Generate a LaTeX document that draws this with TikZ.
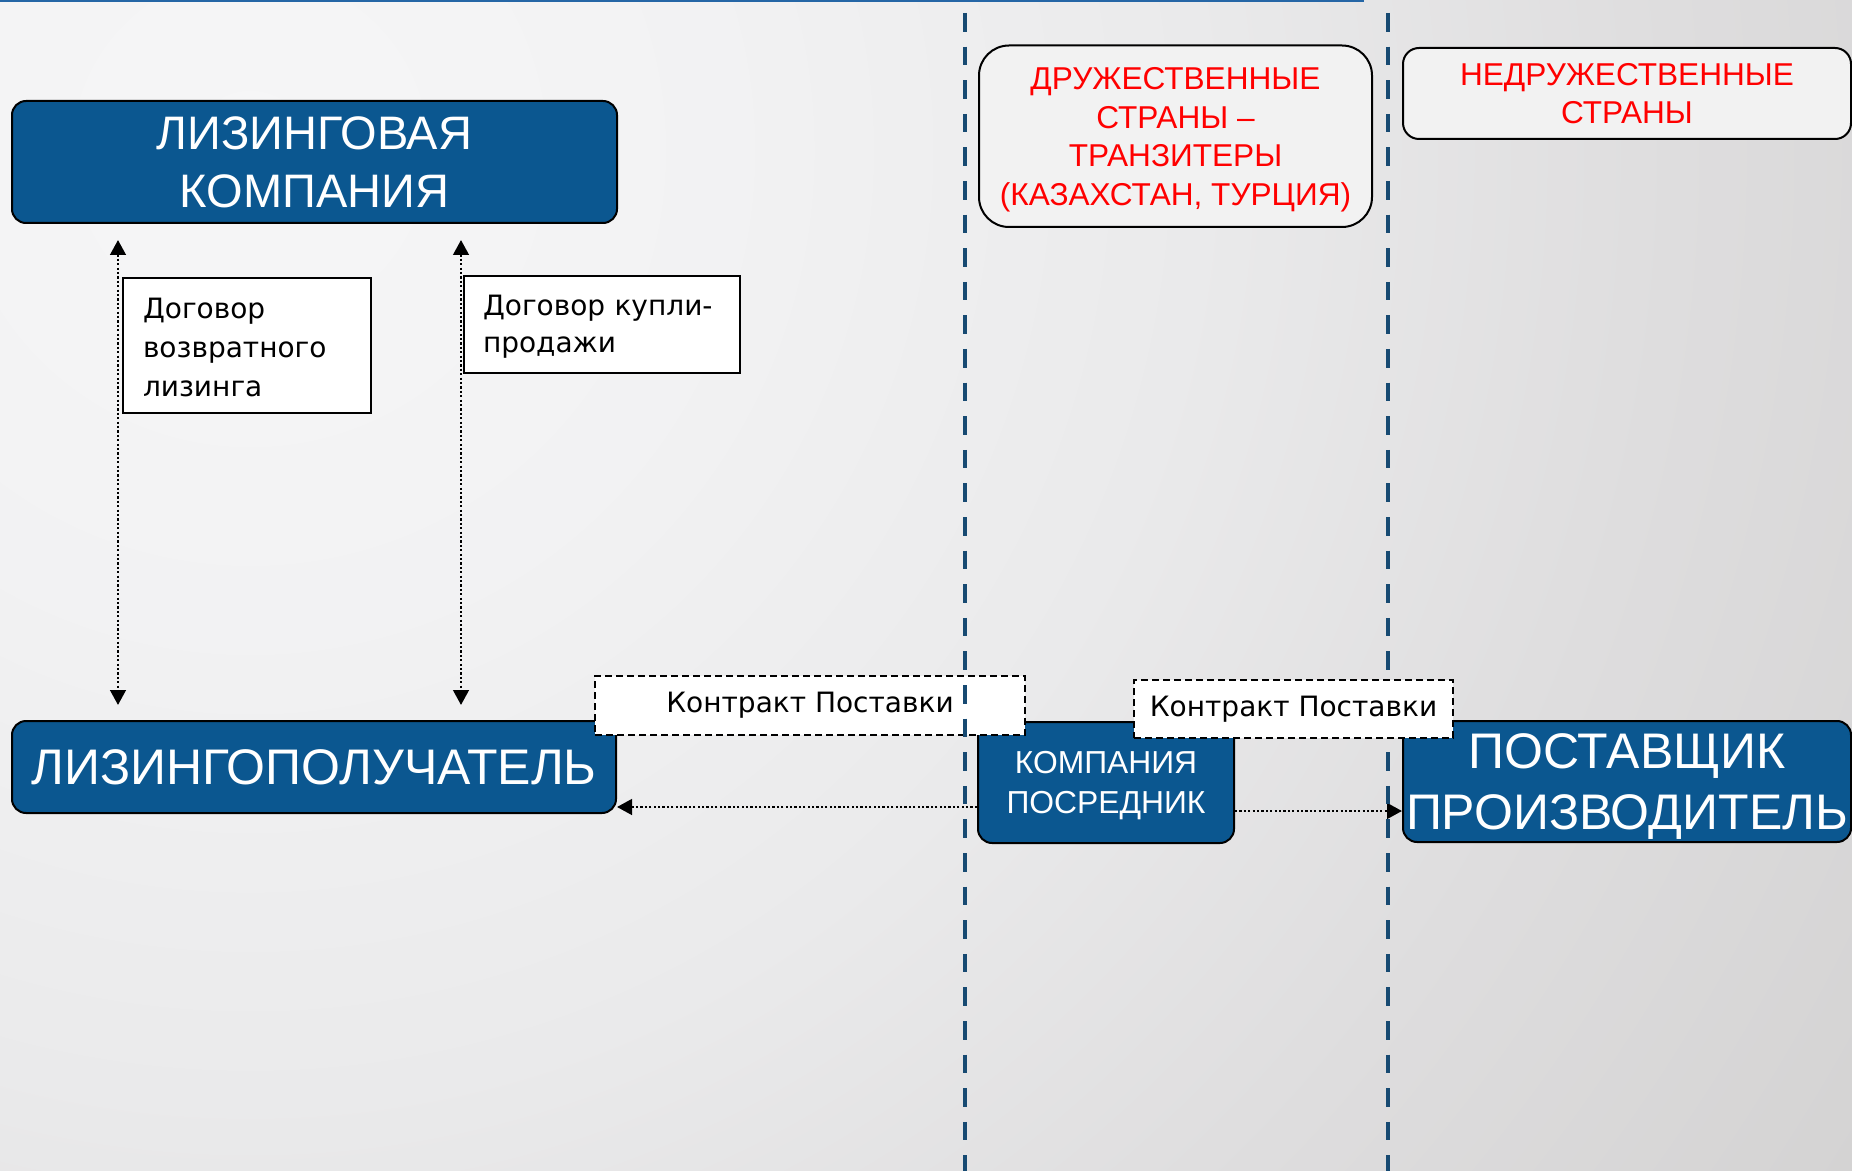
\documentclass[tikz,border=0pt]{standalone}
\usepackage{fontspec}
\setmainfont{Liberation Sans}
\newfontfamily\dvfont{DejaVu Sans}
\usetikzlibrary{arrows.meta,calc,shadings}
\definecolor{boxblue}{HTML}{0B5790}
\definecolor{navyline}{HTML}{174A72}
\definecolor{toplinecol}{HTML}{2566A6}
\definecolor{redtxt}{HTML}{FF0000}
\definecolor{greybox}{HTML}{F2F2F2}
\definecolor{bgA}{HTML}{F6F6F7}
\definecolor{bgB}{HTML}{F2F2F3}
\definecolor{bgC}{HTML}{EAEAEB}
\definecolor{bgD}{HTML}{DEDDDE}
\definecolor{bgE}{HTML}{D4D3D3}
\pgfdeclareradialshading{bgradial}{\pgfpoint{0bp}{0bp}}{%
  color(0bp)=(bgA); color(6.25bp)=(bgB); color(12.5bp)=(bgC);
  color(18.75bp)=(bgD); color(25bp)=(bgE); color(50bp)=(bgE)}
\tikzset{
  bluebox/.style={draw=black, line width=1pt, fill=boxblue, rounded corners=7pt,
    text=white, align=center, inner sep=0pt},
  countrybox/.style={draw=black, line width=1pt, fill=greybox,
    text=redtxt, align=center, inner sep=0pt},
  dealbox/.style={draw=black, line width=1pt, fill=white, align=left,
    inner ysep=0pt, font=\dvfont\fontsize{14}{19.5}\selectfont},
  contractbox/.style={draw=black, line width=1pt, fill=white, inner sep=0pt,
    dash pattern=on 3.5pt off 2pt, font=\dvfont\fontsize{14}{19}\selectfont},
  dotline/.style={line width=1.3pt, dash pattern=on 1.1pt off 1.1pt},
  tip/.tip={Triangle[length=7.5pt,width=7.8pt]},
  borderline/.style={navyline, line width=2pt, dash pattern=on 9.3pt off 7.5pt}
}
\begin{document}
\begin{tikzpicture}[x=0.5pt,y=-0.5pt]
\useasboundingbox (0,0) rectangle (1852,1171);
\clip (0,0) rectangle (1852,1171);
\coordinate (bgc) at (250,150);
\shade[shading=bgradial] (bgc) circle[radius=950pt];

% top rule
\coordinate (tl1) at (0,1);
\coordinate (tl2) at (1364,1);
\draw[toplinecol, line width=1.5pt] (tl1) -- (tl2);

% main boxes
\node[bluebox, minimum width=302.5pt, minimum height=61pt,
  font=\fontsize{23.5}{29}\selectfont] (lk) at (314.5,162) {ЛИЗИНГОВАЯ\\КОМПАНИЯ};
\node[bluebox, minimum width=302pt, minimum height=46pt,
  font=\fontsize{25}{30}\selectfont] (lp) at (314,767) {ЛИЗИНГОПОЛУЧАТЕЛЬ};
\node[bluebox, minimum width=128pt, minimum height=60.5pt, text depth=0pt,
  font=\fontsize{15.9}{19.75}\selectfont] (kp) at (1106,782.5) {КОМПАНИЯ\\ПОСРЕДНИК};
\node[bluebox, minimum width=224pt, minimum height=60.5pt, text depth=0pt,
  font=\fontsize{25}{30.25}\selectfont] (pp) at (1627,781.5) {ПОСТАВЩИК\\ПРОИЗВОДИТЕЛЬ};

% country headers
\node[countrybox, rounded corners=15pt, minimum width=196.5pt, minimum height=90.75pt,
  text depth=0pt, font=\fontsize{15.8}{19.25}\selectfont] (dr) at (1175.5,136.25)
  {ДРУЖЕСТВЕННЫЕ\\СТРАНЫ –\\ТРАНЗИТЕРЫ\\(КАЗАХСТАН, ТУРЦИЯ)};
\node[countrybox, rounded corners=8pt, minimum width=224pt, minimum height=45.5pt,
  font=\fontsize{15.8}{19}\selectfont] (ndr) at (1627,93.5)
  {НЕДРУЖЕСТВЕННЫЕ\\СТРАНЫ};

% contract labels
\node[dealbox, inner xsep=10pt, text width=104pt, minimum height=67.5pt] (d1) at (247,345.5)
  {\rule{0pt}{12.6pt}Договор\\возвратного\\лизинга};
\node[dealbox, inner xsep=9.5pt, text width=119pt, minimum height=48.5pt,
  font=\dvfont\fontsize{14}{18.5}\selectfont] (d2) at (602,324.5)
  {\rule{0pt}{12.6pt}Договор купли-\\продажи};

% connectors
\draw[dotline, tip-tip, shorten <=8pt, shorten >=7.5pt]
  ([xshift=-98.25pt]lk.south) -- ([xshift=-98.25pt]lk.south |- lp.north);
\draw[dotline, tip-tip, shorten <=8pt, shorten >=7.5pt]
  ([xshift=73.25pt]lk.south) -- ([xshift=73.25pt]lk.south |- lp.north);
\draw[dotline, -tip] ([yshift=-12.25pt]kp.west) -- ([yshift=-12.25pt]kp.west -| lp.east);
\draw[dotline, -tip] ([yshift=-14.25pt]kp.east) -- ([yshift=-14.25pt]kp.east -| pp.west);

% country borders and supply contracts
\coordinate (b1t) at (965,13);
\coordinate (b1b) at (965,1171);
\coordinate (b2t) at (1388,13);
\coordinate (b2b) at (1388,1171);
\draw[borderline] (b2t) -- (b2b);
\node[contractbox, minimum width=215pt, minimum height=29.5pt] (c1) at (810,705.5) {Контракт Поставки};
\node[contractbox, minimum width=159.5pt, minimum height=29pt] (c2) at (1293.5,709) {Контракт Поставки};
\draw[borderline] (b1t) -- (b1b);
\end{tikzpicture}
\end{document}
